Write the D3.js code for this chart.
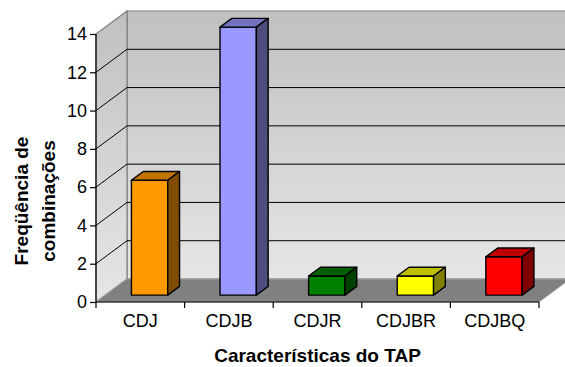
<!DOCTYPE html>
<html>
<head>
<meta charset="utf-8">
<script src="https://cdn.jsdelivr.net/npm/d3@7"></script>
<style>
  html, body { margin: 0; padding: 0; background: #fff; }
  svg { display: block; }
  text { font-family: Arial, "Liberation Sans", sans-serif; }
</style>
</head>
<body>
<svg id="chart" width="565" height="367"></svg>
<script>
// ---- data ----
const categories = ["CDJ", "CDJB", "CDJR", "CDJBR", "CDJBQ"];
const values = [6, 14, 1, 1, 2];
const barColors = ["#FF9900", "#9999FF", "#008000", "#FFFF00", "#FF0000"];
const yTicks = [0, 2, 4, 6, 8, 10, 12, 14];
const xTitle = "Características do TAP";
const yTitleLines = ["Freqüência de", "combinações"];

// ---- layout ----
const svg = d3.select("#chart");
const x = d3.scaleBand().domain(categories).range([96, 539]);
const y = d3.scaleLinear().domain([0, 14]).range([302, 34]);
const DX = 31, DY = -23; // depth vector
const zFront = 0.30, zBack = 0.68;
const barFrac = 0.41;

function shade(c, k) {
  const r = d3.rgb(c);
  return d3.rgb(r.r * k, r.g * k, r.b * k).formatHex();
}

const defs = svg.append("defs");
const grad = defs.append("linearGradient").attr("id", "wallGrad")
  .attr("x1", 0).attr("y1", 0).attr("x2", 0).attr("y2", 1);
grad.append("stop").attr("offset", "0%").attr("stop-color", "#C0C0C0");
grad.append("stop").attr("offset", "100%").attr("stop-color", "#E6E6E6");

const x0 = x.range()[0], x1 = x.range()[1];
const yTop = y(14), yBot = y(0);

// back wall
svg.append("polygon")
  .attr("points", [[x0 + DX, yTop + DY], [x1 + DX, yTop + DY], [x1 + DX, yBot + DY], [x0 + DX, yBot + DY]].join(" "))
  .attr("fill", "url(#wallGrad)").attr("stroke", "#808080").attr("stroke-width", 1.2);
// left wall
svg.append("polygon")
  .attr("points", [[x0, yTop], [x0 + DX, yTop + DY], [x0 + DX, yBot + DY], [x0, yBot]].join(" "))
  .attr("fill", "url(#wallGrad)").attr("stroke", "#808080").attr("stroke-width", 1.2);
// floor
svg.append("polygon")
  .attr("points", [[x0, yBot], [x1, yBot], [x1 + DX, yBot + DY], [x0 + DX, yBot + DY]].join(" "))
  .attr("fill", "#808080").attr("stroke", "#A0A0A0").attr("stroke-width", 1);

// gridlines
const gridVals = yTicks.filter(v => v > 0 && v < 14);
svg.append("g").selectAll("line.back").data(gridVals).join("line")
  .attr("x1", x0 + DX).attr("x2", x1 + DX)
  .attr("y1", d => y(d) + DY).attr("y2", d => y(d) + DY)
  .attr("stroke", "#000").attr("stroke-width", 1);
svg.append("g").selectAll("line.side").data(gridVals).join("line")
  .attr("x1", x0).attr("x2", x0 + DX)
  .attr("y1", d => y(d)).attr("y2", d => y(d) + DY)
  .attr("stroke", "#000").attr("stroke-width", 1);

// bars
const bars = svg.append("g");
categories.forEach((c, i) => {
  const v = values[i], col = barColors[i];
  const bw = x.bandwidth() * barFrac;
  const cx = x(c) + x.bandwidth() / 2;
  const fx = cx - bw / 2 + DX * zFront, fy = DY * zFront;
  const ddx = DX * (zBack - zFront), ddy = DY * (zBack - zFront);
  const L = fx, R = fx + bw, T = y(v) + fy, B = y(0) + fy;
  const g = bars.append("g").attr("stroke", "#000").attr("stroke-width", 1.4).attr("stroke-linejoin", "round");
  g.append("polygon").attr("points", [[L, T], [R, T], [R, B], [L, B]].join(" ")).attr("fill", col);
  g.append("polygon").attr("points", [[L, T], [L + ddx, T + ddy], [R + ddx, T + ddy], [R, T]].join(" ")).attr("fill", shade(col, 0.75));
  g.append("polygon").attr("points", [[R, T], [R + ddx, T + ddy], [R + ddx, B + ddy], [R, B]].join(" ")).attr("fill", shade(col, 0.5));
});

// axes
const yAxis = d3.axisLeft(y).tickValues(yTicks).tickSize(6).tickPadding(3);
const gy = svg.append("g").attr("transform", `translate(${x0},0)`).call(yAxis);
gy.select(".domain").attr("stroke", "#000").attr("stroke-width", 1.2).attr("d", `M0,${yTop}V${yBot}`);
gy.selectAll(".tick line").attr("stroke", "#000").attr("stroke-width", 1.2);
gy.selectAll(".tick text").attr("font-size", 18).attr("fill", "#000")
  .attr("font-family", "Arial, 'Liberation Sans', sans-serif");

const xAxis = d3.axisBottom(x).tickSize(0).tickPadding(12);
const gx = svg.append("g").attr("transform", `translate(0,${yBot})`).call(xAxis);
gx.select(".domain").attr("stroke", "#000").attr("stroke-width", 1.2).attr("d", `M${x0},0H${x1}`);
gx.selectAll(".tick text").attr("font-size", 18).attr("fill", "#000")
  .attr("font-family", "Arial, 'Liberation Sans', sans-serif");
// category separator ticks
const sepVals = d3.range(categories.length + 1);
gx.selectAll("line.sep").data(sepVals).join("line").attr("class", "sep")
  .attr("x1", i => x0 + i * x.step()).attr("x2", i => x0 + i * x.step())
  .attr("y1", 0).attr("y2", 6).attr("stroke", "#000").attr("stroke-width", 1.2);

// titles
svg.append("text").attr("x", (x0 + x1) / 2).attr("y", 362)
  .attr("text-anchor", "middle").attr("font-weight", "bold").attr("font-size", 19)
  .text(xTitle);
const yt = svg.append("text").attr("transform", "translate(0,201) rotate(-90)")
  .attr("text-anchor", "middle").attr("font-weight", "bold").attr("font-size", 19);
yt.append("tspan").attr("x", 0).attr("y", 28).text(yTitleLines[0]);
yt.append("tspan").attr("x", 0).attr("y", 55).text(yTitleLines[1]);
</script>
</body>
</html>
